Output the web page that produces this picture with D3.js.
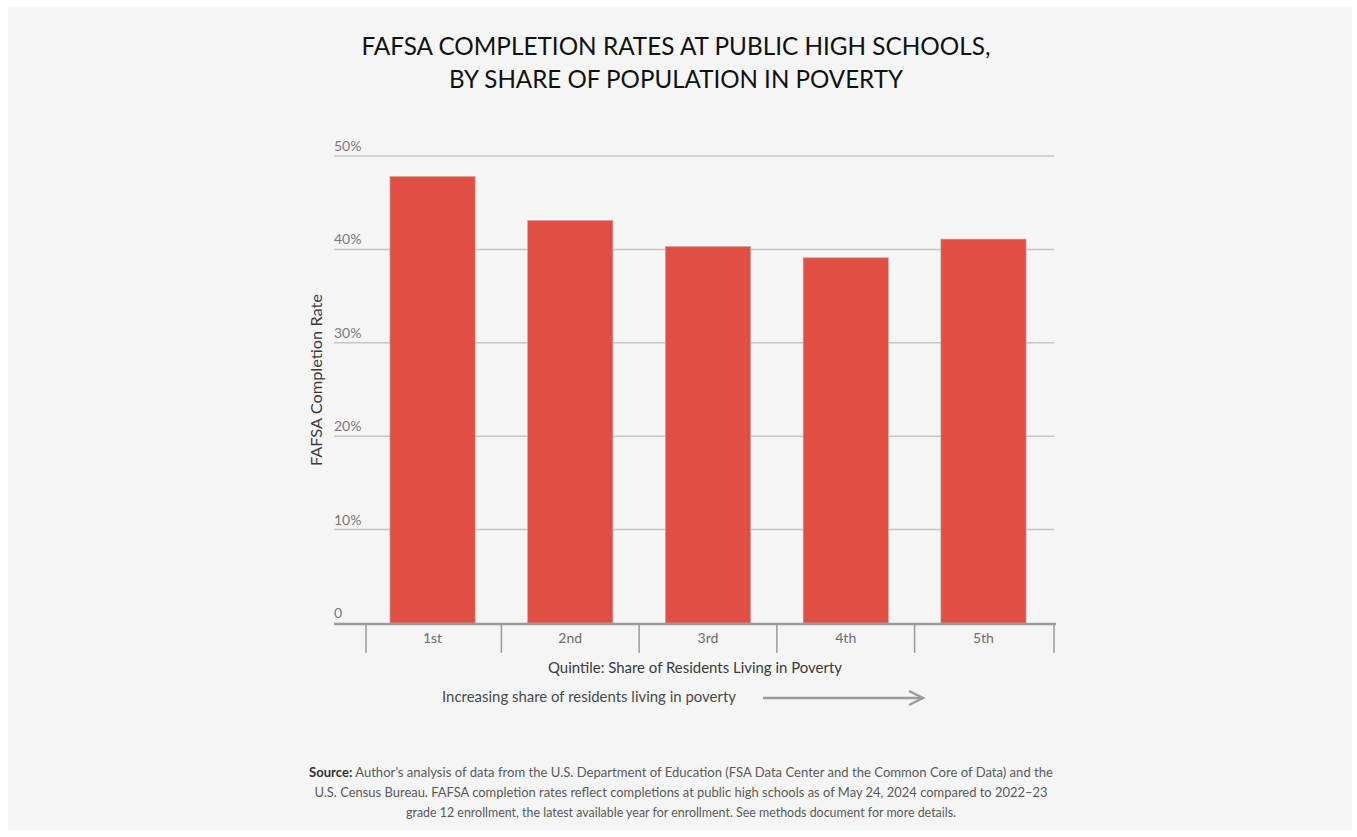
<!DOCTYPE html>
<html><head><meta charset="utf-8">
<script src="https://cdn.jsdelivr.net/npm/d3@7"></script>
<style>
html,body{margin:0;padding:0;background:#fff;}
svg{display:block;}
text{font-family:Lato,"Open Sans",sans-serif;}
</style></head>
<body>
<svg id="chart" width="1357" height="837"></svg>
<script>
const categories = ["1st","2nd","3rd","4th","5th"];
const rates = [47.8, 43.1, 40.3, 39.1, 41.1];
const yTicks = [0,10,20,30,40,50];
const yTickLabels = ["0","10%","20%","30%","40%","50%"];
const titleLines = ["FAFSA COMPLETION RATES AT PUBLIC HIGH SCHOOLS,","BY SHARE OF POPULATION IN POVERTY"];
const sourceLines = [
  ["Source:"," Author’s analysis of data from the U.S. Department of Education (FSA Data Center and the Common Core of Data) and the"],
  ["","U.S. Census Bureau. FAFSA completion rates reflect completions at public high schools as of May 24, 2024 compared to 2022–23"],
  ["","grade 12 enrollment, the latest available year for enrollment. See methods document for more details."]
];

const svg = d3.select("#chart");
svg.append("rect").attr("x",8).attr("y",7).attr("width",1344).attr("height",823).attr("fill","#f4f5f4");

const x = d3.scaleBand().domain(categories).range([366,1050]).paddingInner(0.382).paddingOuter(0.174);
const y = d3.scaleLinear().domain([0,50]).range([623,156]);

// title
svg.append("g").selectAll("text").data(titleLines).join("text")
  .attr("x",676).attr("y",(d,i)=>55+i*33).attr("text-anchor","middle")
  .attr("font-size",24.5).attr("fill","#111").attr("font-weight",400)
  .attr("textLength",(d,i)=>i===0?629:454).attr("lengthAdjust","spacingAndGlyphs")
  .text(d=>d);

// gridlines
svg.append("g").selectAll("line").data(yTicks.filter(t=>t>0)).join("line")
  .attr("x1",334).attr("x2",1054).attr("y1",d=>y(d)).attr("y2",d=>y(d))
  .attr("stroke","#c6c6c6").attr("stroke-width",1.5);

// y labels
svg.append("g").selectAll("text").data(yTicks).join("text")
  .attr("x",334).attr("y",d=>y(d)-5).attr("font-size",14).attr("fill","#7a7a7a")
  .text((d,i)=>yTickLabels[i]);

// bars
svg.append("g").selectAll("rect").data(rates).join("rect")
  .attr("x",(d,i)=>x(categories[i])).attr("width",x.bandwidth())
  .attr("y",d=>y(d)).attr("height",d=>y(0)-y(d))
  .attr("fill","#e14f44").attr("stroke","#c9a09c").attr("stroke-width",0.6);

// baseline
svg.append("line").attr("x1",334).attr("x2",1056).attr("y1",624).attr("y2",624)
  .attr("stroke","#9b9b9b").attr("stroke-width",2.5);

// separators
const bounds = [366].concat(categories.slice(1).map(c=>x(c)-x.step()*x.paddingInner()/2)).concat([1054]);
svg.append("g").selectAll("line").data(bounds).join("line")
  .attr("x1",d=>d).attr("x2",d=>d).attr("y1",625).attr("y2",653)
  .attr("stroke","#9b9b9b").attr("stroke-width",1.5);

// category labels
svg.append("g").selectAll("text").data(categories).join("text")
  .attr("x",d=>x(d)+x.bandwidth()/2).attr("y",643).attr("text-anchor","middle")
  .attr("font-size",14).attr("fill","#6d6d6d").text(d=>d);

// x axis title
svg.append("text").attr("x",695).attr("y",673).attr("text-anchor","middle")
  .attr("font-size",16).attr("fill","#3a3a3a").attr("textLength",294).attr("lengthAdjust","spacingAndGlyphs")
  .text("Quintile: Share of Residents Living in Poverty");

svg.append("text").attr("x",442).attr("y",702)
  .attr("font-size",15).attr("fill","#4a4a4a").attr("textLength",294).attr("lengthAdjust","spacingAndGlyphs")
  .text("Increasing share of residents living in poverty");

// arrow
svg.append("line").attr("x1",763).attr("x2",923).attr("y1",698).attr("y2",698)
  .attr("stroke","#9b9b9b").attr("stroke-width",2.5);
svg.append("path").attr("d","M909,691 L923,698 L909,705").attr("fill","none")
  .attr("stroke","#9b9b9b").attr("stroke-width",2.5);

// y title
svg.append("text").attr("transform","translate(322,380) rotate(-90)").attr("text-anchor","middle")
  .attr("font-size",15).attr("fill","#3a3a3a").attr("textLength",172).attr("lengthAdjust","spacingAndGlyphs")
  .text("FAFSA Completion Rate");

// source
const widths=[744,733,550];
const src = svg.append("g");
sourceLines.forEach((l,i)=>{
  const t = src.append("text").attr("x",681).attr("y",777+i*20).attr("text-anchor","middle")
    .attr("font-size",13).attr("fill","#5a5a5a").attr("textLength",widths[i]).attr("lengthAdjust","spacingAndGlyphs");
  if(l[0]) t.append("tspan").attr("font-weight",700).attr("fill","#333").text(l[0]);
  t.append("tspan").text(l[1]);
});
</script>
</body></html>
